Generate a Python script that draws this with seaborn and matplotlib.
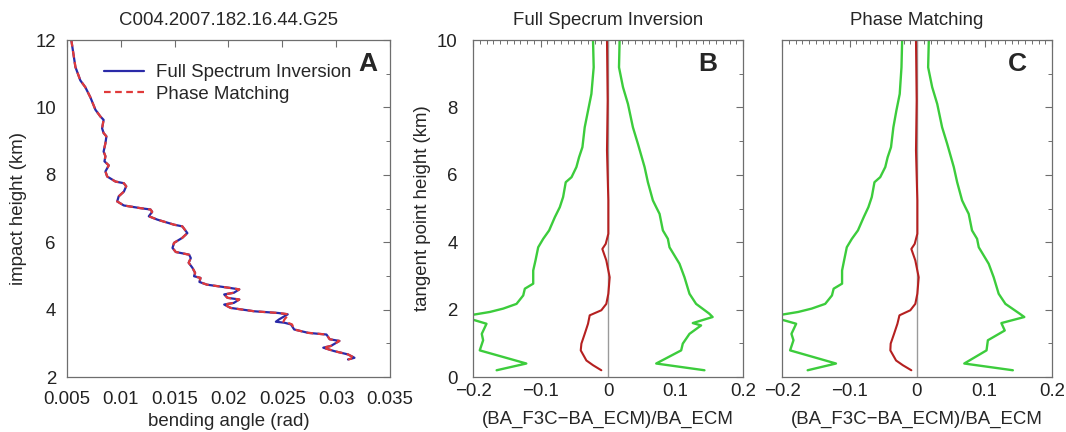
import numpy as np
import pandas as pd
import matplotlib
matplotlib.use("Agg")
import matplotlib.pyplot as plt
import seaborn as sns
from matplotlib.ticker import MultipleLocator

sns.set_theme(style="white")
plt.rcParams['font.family'] = ['Liberation Sans', 'DejaVu Sans']

# ---------------- Panel A data ----------------
fsi_height = [12.0, 11.2, 10.8, 10.6, 10.3, 9.93, 9.73, 9.63, 9.38, 9.24, 9.14, 8.94, 8.69, 8.55,
              8.4, 8.28, 8.1, 7.95, 7.8, 7.75, 7.66, 7.5, 7.36, 7.21, 7.09, 7.01, 6.97, 6.9,
              6.77, 6.67, 6.52, 6.47, 6.27, 6.13, 5.98, 5.83, 5.71, 5.63, 5.53, 5.39, 5.24,
              5.09, 4.99, 4.94, 4.82, 4.74, 4.64, 4.6, 4.5, 4.45, 4.35, 4.3, 4.2, 4.15, 4.05,
              3.95, 3.9, 3.86, 3.71, 3.64, 3.61, 3.56, 3.41, 3.31, 3.26, 3.12, 3.07, 2.92,
              2.87, 2.77, 2.67, 2.57, 2.52]
fsi_angle = [0.0054, 0.00578, 0.00624, 0.0067, 0.00717, 0.00764, 0.0081, 0.0084, 0.00826,
             0.0084, 0.00866, 0.00857, 0.0084, 0.00857, 0.00848, 0.00888, 0.00857, 0.00873,
             0.0095, 0.01028, 0.0105, 0.01028, 0.0098, 0.00966, 0.01028, 0.01183, 0.01276,
             0.01291, 0.0126, 0.01339, 0.01494, 0.01571, 0.01618, 0.01571, 0.01494, 0.0148,
             0.0151, 0.01634, 0.0165, 0.0163, 0.01665, 0.0169, 0.0168, 0.0174, 0.0173, 0.018,
             0.0202, 0.021, 0.0205, 0.0196, 0.0199, 0.021, 0.0205, 0.0196, 0.0202, 0.0224,
             0.0246, 0.0255, 0.0247, 0.0244, 0.0252, 0.0258, 0.0261, 0.0274, 0.0291, 0.0294,
             0.0303, 0.0295, 0.0288, 0.0298, 0.0311, 0.0317, 0.0311]
pm_height = list(fsi_height)
pm_angle = [0.0054, 0.00578, 0.00624, 0.0067, 0.00717, 0.00764, 0.0081, 0.0084, 0.00826,
            0.0084, 0.00866, 0.00857, 0.0084, 0.00857, 0.00848, 0.00888, 0.00857, 0.00873,
            0.0095, 0.01028, 0.0105, 0.01028, 0.0098, 0.00966, 0.01028, 0.01183, 0.01276,
            0.01291, 0.0126, 0.01339, 0.01494, 0.01571, 0.01618, 0.01571, 0.01494, 0.0148,
            0.0151, 0.01634, 0.0165, 0.0163, 0.01665, 0.0169, 0.0168, 0.0174, 0.0173, 0.018,
            0.0202, 0.021, 0.0205, 0.0196, 0.0199, 0.021, 0.0205, 0.0196, 0.0202, 0.0224,
            0.0246, 0.0256, 0.0252, 0.0251, 0.0255, 0.0259, 0.0261, 0.0274, 0.0291, 0.0294,
            0.0303, 0.0295, 0.0288, 0.0298, 0.0311, 0.0317, 0.0311]

# ---------------- Panel B data (Full Spectrum Inversion) ----------------
b_left_h = [10, 9.19, 8.4, 7.9, 7.41, 6.82, 6.52, 6.23, 5.93, 5.78, 5.34, 5.04, 4.74, 4.35,
            4.1, 3.85, 3.46, 3.16, 2.77, 2.62, 2.42, 2.17, 2.03, 1.93, 1.83, 1.7, 1.58, 1.28,
            1.09, 0.79, 0.4, 0.2]
b_left_x = [-0.0222, -0.0212, -0.0246, -0.0296, -0.0345, -0.0379, -0.0429, -0.0468, -0.054,
            -0.0626, -0.0665, -0.0714, -0.0788, -0.0872, -0.096, -0.1034, -0.1074, -0.1108,
            -0.1108, -0.1232, -0.1256, -0.1355, -0.1552, -0.175, -0.205, -0.2, -0.18, -0.187,
            -0.185, -0.19, -0.121, -0.165]
b_right_h = [10, 9.19, 8.6, 8.1, 7.41, 6.92, 6.23, 5.78, 5.24, 5.04, 4.84, 4.35, 4.1, 3.85,
             3.36, 2.96, 2.47, 2.17, 1.88, 1.78, 1.6, 1.53, 1.28, 0.99, 0.79, 0.4, 0.2]
b_right_x = [0.0172, 0.0163, 0.0222, 0.0296, 0.0369, 0.0443, 0.0542, 0.0591, 0.0665, 0.0714,
             0.0764, 0.0813, 0.0887, 0.0911, 0.1059, 0.1133, 0.1207, 0.1305, 0.15, 0.155,
             0.1256, 0.1379, 0.1207, 0.1108, 0.1084, 0.0714, 0.1429]
b_mean_h = [10, 8.2, 6.72, 5.24, 4.25, 3.95, 3.8, 3.46, 2.96, 2.47, 2.17, 1.98, 1.83, 1.58,
            1.28, 0.99, 0.79, 0.49, 0.35, 0.2]
b_mean_x = [-0.0015, -0.0005, -0.0015, 0.0005, 0.0005, -0.0034, -0.0084, -0.0025, 0.0025,
            0.0005, -0.0025, -0.0099, -0.0271, -0.0296, -0.0345, -0.0394, -0.0404, -0.032,
            -0.0222, -0.0099]

# ---------------- Panel C data (Phase Matching) ----------------
c_left_h = list(b_left_h)
c_left_x = [-0.022, -0.023, -0.0256, -0.0306, -0.035, -0.0385, -0.0435, -0.047, -0.0545,
            -0.063, -0.067, -0.072, -0.079, -0.0875, -0.0965, -0.104, -0.108, -0.111,
            -0.111, -0.1235, -0.126, -0.136, -0.156, -0.176, -0.206, -0.2, -0.179, -0.186,
            -0.183, -0.188, -0.12, -0.162]
c_right_h = [10, 9.19, 8.6, 8.1, 7.41, 6.92, 6.23, 5.78, 5.24, 5.04, 4.84, 4.35, 4.1, 3.85,
             3.36, 2.96, 2.47, 2.17, 1.88, 1.78, 1.6, 1.38, 1.09, 0.79, 0.4, 0.2]
c_right_x = [0.0175, 0.0165, 0.0225, 0.03, 0.0372, 0.0447, 0.0545, 0.0595, 0.0668, 0.0716,
             0.0766, 0.0815, 0.089, 0.0915, 0.1062, 0.1136, 0.121, 0.131, 0.152, 0.159,
             0.125, 0.13, 0.105, 0.103, 0.07, 0.142]
c_mean_h = list(b_mean_h)
c_mean_x = [-0.0015, -0.0005, -0.0015, 0.0005, 0.0005, -0.0034, -0.0084, -0.0025, 0.0025,
            0.0005, -0.0025, -0.0099, -0.026, -0.029, -0.034, -0.039, -0.0395, -0.031,
            -0.021, -0.0084]

GREEN = "#3ccc3c"
DARKRED = "#b52020"
SPINE = "#6e6e6e"
FS = 13.4

fig = plt.figure(figsize=(10.66, 4.32), dpi=100)
axA = fig.add_axes([67/1066, 1-377/432, 323/1066, 337/432])
axB = fig.add_axes([473/1066, 1-377/432, 270/1066, 337/432])
axC = fig.add_axes([782/1066, 1-377/432, 270/1066, 337/432])

# Panel A
sns.lineplot(x=fsi_angle, y=fsi_height, sort=False, estimator=None, ax=axA,
             color="#2a2aa8", lw=1.6, label="Full Spectrum Inversion")
sns.lineplot(x=pm_angle, y=pm_height, sort=False, estimator=None, ax=axA,
             color="#e03a3a", lw=1.6, linestyle=(0, (3, 2)), label="Phase Matching")
axA.set_xlim(0.005, 0.035)
axA.set_ylim(2, 12)
axA.set_xticks([0.005, 0.01, 0.015, 0.02, 0.025, 0.03, 0.035])
axA.set_xticklabels(["0.005", "0.01", "0.015", "0.02", "0.025", "0.03", "0.035"])
axA.set_yticks([2, 4, 6, 8, 10, 12])
axA.yaxis.set_minor_locator(MultipleLocator(1))
axA.set_xlabel("bending angle (rad)", fontsize=FS, labelpad=4)
axA.set_ylabel("impact height (km)", fontsize=FS, labelpad=6)
axA.set_title("C004.2007.182.16.44.G25", fontsize=FS, pad=11)
axA.legend(loc="upper left", bbox_to_anchor=(0.09, 0.95), frameon=False, fontsize=FS,
           handlelength=2.2, handletextpad=0.6, labelspacing=0.25, borderaxespad=0)
axA.text(0.93, 0.93, "A", transform=axA.transAxes, fontsize=19, fontweight="bold",
         ha="center", va="center")

def panel(ax, lh, lx, rh, rx, mh, mx, title, letter, show_ylabel):
    ax.axvline(0, color="#9a9a9a", lw=1.0, zorder=1)
    sns.lineplot(x=lx, y=lh, sort=False, estimator=None, ax=ax, color=GREEN, lw=1.7)
    sns.lineplot(x=rx, y=rh, sort=False, estimator=None, ax=ax, color=GREEN, lw=1.7)
    sns.lineplot(x=mx, y=mh, sort=False, estimator=None, ax=ax, color=DARKRED, lw=1.5)
    ax.set_xlim(-0.2, 0.2)
    ax.set_ylim(0, 10)
    ax.set_xticks([-0.2, -0.1, 0, 0.1, 0.2])
    ax.set_xticklabels(["\u22120.2", "\u22120.1", "0", "0.1", "0.2"])
    ax.xaxis.set_minor_locator(MultipleLocator(0.01))
    ax.set_yticks([0, 2, 4, 6, 8, 10])
    ax.yaxis.set_minor_locator(MultipleLocator(1))
    ax.set_xlabel("(BA_F3C\u2212BA_ECM)/BA_ECM", fontsize=FS, labelpad=8)
    ax.set_title(title, fontsize=FS, pad=11)
    if show_ylabel:
        ax.set_ylabel("tangent point height (km)", fontsize=FS, labelpad=4)
    else:
        ax.set_ylabel("")
        ax.set_yticklabels([])
    ax.text(0.87, 0.93, letter, transform=ax.transAxes, fontsize=19, fontweight="bold",
            ha="center", va="center")

panel(axB, b_left_h, b_left_x, b_right_h, b_right_x, b_mean_h, b_mean_x,
      "Full Specrum Inversion", "B", True)
panel(axC, c_left_h, c_left_x, c_right_h, c_right_x, c_mean_h, c_mean_x,
      "Phase Matching", "C", False)

for ax in (axA, axB, axC):
    for s in ax.spines.values():
        s.set_color(SPINE)
        s.set_linewidth(0.9)
    ax.tick_params(which="both", direction="in", top=True, right=True, colors=SPINE,
                   labelcolor="#222222", labelsize=FS)
    ax.tick_params(which="major", length=5, width=0.8)
    ax.tick_params(which="minor", length=3, width=0.7)
    ax.set_facecolor("white")
axA.tick_params(axis="x", which="major", pad=10)
axB.tick_params(axis="x", which="major", pad=4)
axC.tick_params(axis="x", which="major", pad=4)
axA.tick_params(axis="y", which="major", pad=8)
axB.tick_params(axis="y", which="major", pad=11)

fig.savefig("out.png", dpi=100, facecolor="white")
